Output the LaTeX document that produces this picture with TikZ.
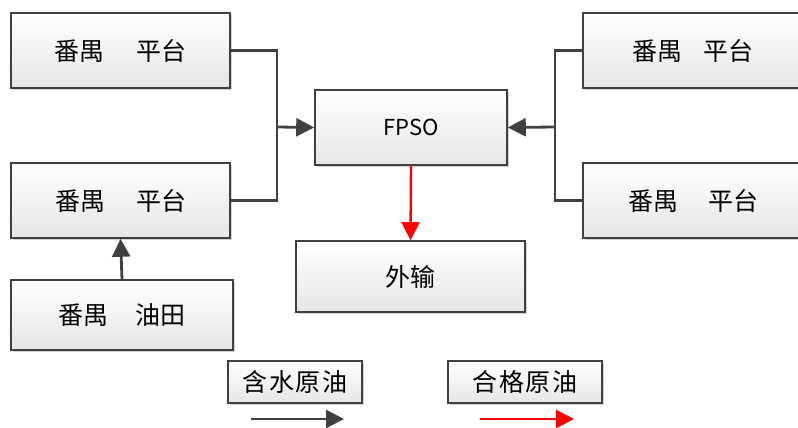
\documentclass[tikz,border=0pt]{standalone}
\usepackage{fontspec}
\newfontfamily\cjk{Noto Sans CJK SC}
\usetikzlibrary{arrows.meta,shadows,shadings}
\definecolor{edge}{HTML}{404040}
\definecolor{boxbot}{HTML}{E6E6E6}
\begin{document}
\begin{tikzpicture}[x=1pt,y=-1pt,
  box/.style={draw=edge,line width=1.6pt,top color=white,bottom color=boxbot,
    drop shadow={shadow xshift=2pt,shadow yshift=-2pt,fill=black,opacity=0.18},
    inner sep=0pt,font=\cjk\fontsize{25}{28}\selectfont,text=black},
  flow/.style={draw=edge,line width=2.8pt,-{Triangle[length=18pt,width=18pt]}},
  link/.style={draw=edge,line width=2.8pt},
  good/.style={draw=red,line width=2.4pt,-{Triangle[length=18pt,width=18pt]}}]
\useasboundingbox (0,0) rectangle (798,428);
\node[box,minimum width=219pt,minimum height=75pt] (p1) at (120.5,50.5) {番禺\hspace{32pt}平台};
\node[box,minimum width=219pt,minimum height=75pt] (p2) at (120.5,200.5) {番禺\hspace{31pt}平台};
\node[box,minimum width=222pt,minimum height=70pt] (of) at (122,315) {番禺\hspace{27pt}油田};
\node[box,minimum width=192pt,minimum height=75pt,font=\cjk\fontsize{22}{26}\selectfont] (fpso) at (411,127.5) {FPSO};
\node[box,minimum width=229pt,minimum height=71pt] (out) at (410.5,276.5) {外输};
\node[box,minimum width=220pt,minimum height=75pt] (p3) at (693,50.5) {番禺\hspace{21pt}平台};
\node[box,minimum width=220pt,minimum height=75pt] (p4) at (693,200.5) {番禺\hspace{30pt}平台};
\node[box,minimum width=134pt,minimum height=42pt] (l1) at (295,382) {含\hspace{1.5pt}水\hspace{1.5pt}原\hspace{1.5pt}油};
\node[box,minimum width=154pt,minimum height=42pt] (l2) at (525,382) {合\hspace{1.5pt}格\hspace{1.5pt}原\hspace{1.5pt}油};
% connectors left
\coordinate (jl) at (277,127);
\draw[link] (p1.east) -| (jl);
\draw[link] (p2.east) -| (jl);
\draw[flow] (jl) -- (fpso.west);
% connectors right
\coordinate (jr) at (555,127);
\draw[link] (p3.west) -| (jr);
\draw[link] (p4.west) -| (jr);
\draw[flow] (jr) -- (fpso.east);
% oilfield to platform
\draw[flow] (of.north) -- (p2.south);
% FPSO to export
\draw[good] (fpso.south) -- (out.north);
% legend arrows
\coordinate (a1s) at (251,419);
\coordinate (a1e) at (344,419);
\coordinate (a2s) at (480,419);
\coordinate (a2e) at (574,419);
\draw[flow,line width=2.4pt] (a1s) -- (a1e);
\draw[good] (a2s) -- (a2e);
\end{tikzpicture}
\end{document}
